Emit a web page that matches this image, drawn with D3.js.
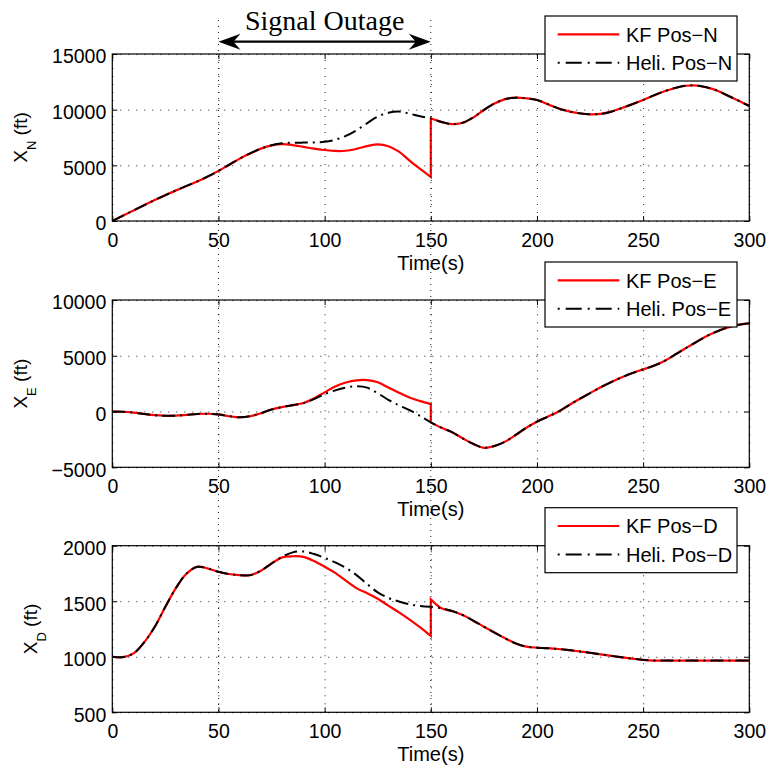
<!DOCTYPE html>
<html>
<head>
<meta charset="utf-8">
<script src="https://cdn.jsdelivr.net/npm/d3@7"></script>
<style>
  body { margin: 0; background: #fff; }
  svg { display: block; font-family: "Liberation Sans", Arial, Helvetica, sans-serif; }
</style>
</head>
<body>
<div id="chart"></div>
<script>
// time axis (s); 150 appears twice so the KF reset at the end of the outage is a vertical jump
const time = [0, 5, 10, 15, 20, 25, 30, 35, 40, 45, 50, 55, 60, 65, 70, 75, 80, 85, 90, 95,
  100, 105, 110, 115, 120, 125, 130, 135, 140, 145, 150, 150, 155, 160, 165, 170, 175, 180, 185, 190,
  195, 200, 205, 210, 215, 220, 225, 230, 235, 240, 245, 250, 255, 260, 265, 270, 275, 280, 285, 290,
  295, 300];

// North position (ft)
const heliN = [0, 480, 950, 1420, 1880, 2320, 2750, 3150, 3550, 4000, 4500, 5050, 5600, 6080, 6500, 6800, 6980, 7030, 7040, 7060,
  7110, 7300, 7650, 8150, 8780, 9380, 9720, 9830, 9640, 9400, 9220, 9220, 8900, 8700, 8820, 9300, 9970, 10550, 10950, 11080,
  11020, 10870, 10500, 10120, 9850, 9680, 9580, 9620, 9820, 10150, 10500, 10870, 11280, 11650, 11950, 12150, 12170, 12000, 11700, 11250,
  10800, 10330];
const kfN = [0, 480, 950, 1420, 1880, 2320, 2750, 3150, 3550, 4000, 4500, 5050, 5600, 6080, 6500, 6790, 6900, 6820, 6660, 6500,
  6380, 6290, 6310, 6480, 6720, 6880, 6720, 6230, 5430, 4680, 3950, 9200, 8900, 8700, 8820, 9300, 9970, 10550, 10950, 11080,
  11020, 10870, 10500, 10120, 9850, 9680, 9580, 9620, 9820, 10150, 10500, 10870, 11280, 11650, 11950, 12150, 12170, 12000, 11700, 11250,
  10800, 10330];

// East position (ft)
const heliE = [0, -20, -100, -220, -330, -380, -370, -300, -220, -200, -260, -420, -520, -420, -150, 180, 400, 570, 760, 1120,
  1560, 1900, 2150, 2260, 2140, 1640, 1050, 550, 120, -400, -970, -970, -1450, -1850, -2400, -2900, -3250, -3090, -2700, -2100,
  -1450, -910, -470, -20, 560, 1120, 1650, 2170, 2640, 3070, 3450, 3780, 4100, 4530, 5100, 5670, 6230, 6770, 7200, 7550,
  7780, 7910];
const kfE = [0, -20, -100, -220, -330, -380, -370, -300, -220, -200, -260, -420, -520, -420, -150, 180, 400, 570, 760, 1180,
  1720, 2250, 2600, 2800, 2820, 2620, 2150, 1680, 1250, 930, 660, -970, -1450, -1850, -2400, -2900, -3250, -3090, -2700, -2100,
  -1450, -910, -470, -20, 560, 1120, 1650, 2170, 2640, 3070, 3450, 3780, 4100, 4530, 5100, 5670, 6230, 6770, 7200, 7550,
  7780, 7910];

// Down position (ft)
const heliD = [1000, 997, 1030, 1130, 1270, 1450, 1620, 1750, 1810, 1795, 1765, 1745, 1735, 1735, 1775, 1840, 1900, 1940, 1948, 1925,
  1890, 1850, 1800, 1735, 1655, 1580, 1530, 1497, 1472, 1458, 1450, 1450, 1436, 1412, 1376, 1325, 1271, 1218, 1166, 1120,
  1091, 1082, 1077, 1070, 1060, 1048, 1036, 1022, 1008, 995, 983, 972, 966, 966, 966, 966, 966, 966, 966, 966,
  966, 966];
const kfD = [1000, 997, 1030, 1130, 1270, 1450, 1620, 1750, 1810, 1795, 1765, 1745, 1735, 1735, 1775, 1840, 1895, 1905, 1900, 1862,
  1810, 1755, 1685, 1618, 1572, 1522, 1460, 1400, 1335, 1265, 1187, 1517, 1436, 1412, 1376, 1325, 1271, 1218, 1166, 1120,
  1091, 1082, 1077, 1070, 1060, 1048, 1036, 1022, 1008, 995, 983, 972, 966, 966, 966, 966, 966, 966, 966, 966,
  966, 966];

const xTicks = [0, 50, 100, 150, 200, 250, 300];
const yTicksN = [0, 5000, 10000, 15000];
const yTicksE = [-5000, 0, 5000, 10000];
const yTicksD = [500, 1000, 1500, 2000];
const outage = [50, 150];
const outageLabel = "Signal Outage";

const width = 771, height = 769;
const left = 112.3, right = 749.3;

const panels = [
  { top: 54, bottom: 221, domain: [0, 15000], ticks: yTicksN, heli: heliN, kf: kfN, sub: "N", labelX: 26.7,
    kfName: "KF Pos\u2212N", heliName: "Heli. Pos\u2212N" },
  { top: 300, bottom: 467.3, domain: [-5000, 10000], ticks: yTicksE, heli: heliE, kf: kfE, sub: "E", labelX: 26.7,
    kfName: "KF Pos\u2212E", heliName: "Heli. Pos\u2212E" },
  { top: 545.7, bottom: 712.3, domain: [500, 2000], ticks: yTicksD, heli: heliD, kf: kfD, sub: "D", labelX: 36.7,
    kfName: "KF Pos\u2212D", heliName: "Heli. Pos\u2212D" }
];

const svg = d3.select("#chart").append("svg")
  .attr("width", width)
  .attr("height", height);

const x = d3.scaleLinear().domain([0, 300]).range([left, right]);
const dashDot = "13,5,2,5";

panels.forEach((p, i) => {
  const y = d3.scaleLinear().domain(p.domain).range([p.bottom, p.top]);
  const g = svg.append("g");
  const h = p.bottom - p.top;

  // dotted grid
  g.append("g")
    .attr("transform", `translate(0,${p.bottom})`)
    .call(d3.axisBottom(x).tickValues(xTicks).tickSize(-h).tickFormat(""))
    .call(s => s.select(".domain").remove())
    .selectAll("line")
    .attr("stroke", "#000").attr("stroke-width", 0.9).attr("stroke-dasharray", "1,7");
  g.append("g")
    .attr("transform", `translate(${left},0)`)
    .call(d3.axisLeft(y).tickValues(p.ticks).tickSize(-(right - left)).tickFormat(""))
    .call(s => s.select(".domain").remove())
    .selectAll("line")
    .attr("stroke", "#000").attr("stroke-width", 0.9).attr("stroke-dasharray", "1,7");

  // data lines
  g.append("clipPath").attr("id", "clip" + i)
    .append("rect").attr("x", left).attr("y", p.top).attr("width", right - left).attr("height", h);

  const line = d3.line()
    .x(d => x(d[0]))
    .y(d => y(d[1]))
    .curve(d3.curveCatmullRom.alpha(0.5));

  // split at the repeated time stamp so the reset is a straight vertical step
  const pathFor = vals => {
    const pts = time.map((t, k) => [t, vals[k]]);
    const segs = [[pts[0]]];
    for (let k = 1; k < pts.length; k++) {
      if (pts[k][0] === pts[k - 1][0]) segs.push([pts[k]]);
      else segs[segs.length - 1].push(pts[k]);
    }
    return segs.map((s, k) => {
      const d = line(s);
      return k === 0 ? d : d.replace(/^M/, "L");
    }).join("");
  };

  g.append("path")
    .attr("clip-path", `url(#clip${i})`)
    .attr("d", pathFor(p.kf))
    .attr("fill", "none").attr("stroke", "#ff0000").attr("stroke-width", 2.2);

  g.append("path")
    .attr("clip-path", `url(#clip${i})`)
    .attr("d", pathFor(p.heli))
    .attr("fill", "none").attr("stroke", "#000").attr("stroke-width", 2)
    .attr("stroke-dasharray", dashDot);

  // box
  g.append("rect")
    .attr("x", left).attr("y", p.top).attr("width", right - left).attr("height", h)
    .attr("fill", "none").attr("stroke", "#000").attr("stroke-width", 1.2);

  // inward ticks with labels
  const axB = g.append("g")
    .attr("transform", `translate(0,${p.bottom})`)
    .call(d3.axisBottom(x).tickValues(xTicks).tickSizeInner(-5).tickSizeOuter(0).tickPadding(12));
  const axT = g.append("g")
    .attr("transform", `translate(0,${p.top})`)
    .call(d3.axisTop(x).tickValues(xTicks).tickSizeInner(-5).tickSizeOuter(0).tickFormat(""));
  const axL = g.append("g")
    .attr("transform", `translate(${left},0)`)
    .call(d3.axisLeft(y).tickValues(p.ticks).tickSizeInner(-5).tickSizeOuter(0).tickPadding(6).tickFormat(d3.format("d")));
  const axR = g.append("g")
    .attr("transform", `translate(${right},0)`)
    .call(d3.axisRight(y).tickValues(p.ticks).tickSizeInner(-5).tickSizeOuter(0).tickFormat(""));

  [axB, axT, axL, axR].forEach(a => {
    a.select(".domain").remove();
    a.selectAll("line").attr("stroke", "#000").attr("stroke-width", 1);
    a.selectAll("text")
      .attr("fill", "#000")
      .style("font-family", "'Liberation Sans', Arial, sans-serif")
      .style("font-size", "19.5px");
  });
  axL.selectAll("text").attr("dy", "0.46em");

  // axis labels
  g.append("text")
    .attr("x", (left + right) / 2)
    .attr("y", p.bottom + 48.7)
    .attr("text-anchor", "middle")
    .attr("font-size", "20px")
    .text("Time(s)");

  const yl = g.append("text")
    .attr("transform", `translate(${p.labelX},${(p.top + p.bottom) / 2}) rotate(-90)`)
    .attr("text-anchor", "middle")
    .attr("font-size", "19px");
  yl.append("tspan").text("X");
  yl.append("tspan").attr("font-size", "13px").attr("dy", 9.5).text(p.sub);
  yl.append("tspan").attr("dy", -9.5).text(" (ft)");

  // legend
  const ly = p.top - 38;
  const lg = g.append("g");
  lg.append("rect")
    .attr("x", 545).attr("y", ly).attr("width", 192).attr("height", 65)
    .attr("fill", "#fff").attr("stroke", "#000").attr("stroke-width", 1.2);
  const rows = [
    { name: p.kfName, color: "#ff0000", dash: null, w: 2.2 },
    { name: p.heliName, color: "#000", dash: "16,6,2,6", w: 2 }
  ];
  rows.forEach((r, k) => {
    const ry = ly + 18.3 + k * 28.4;
    lg.append("line")
      .attr("x1", 557.7).attr("x2", 619.3).attr("y1", ry).attr("y2", ry)
      .attr("stroke", r.color).attr("stroke-width", r.w)
      .attr("stroke-dasharray", r.dash)
      .attr("stroke-dashoffset", r.dash ? 22 : null);
    lg.append("text")
      .attr("x", 626).attr("y", ry + 7.3)
      .attr("font-size", "20px")
      .text(r.name);
  });
});

// outage markers spanning all three panels
outage.forEach(t => {
  svg.append("line")
    .attr("x1", x(t)).attr("x2", x(t))
    .attr("y1", 20).attr("y2", panels[2].bottom)
    .attr("stroke", "#000").attr("stroke-width", 0.9)
    .attr("stroke-dasharray", "1,5");
});

const ay = 41.7;
const x0 = x(outage[0]), x1 = x(outage[1]);
svg.append("line")
  .attr("x1", x0 + 10).attr("x2", x1 - 10)
  .attr("y1", ay).attr("y2", ay)
  .attr("stroke", "#000").attr("stroke-width", 2.2);
svg.append("path")
  .attr("d", `M${x0},${ay} L${x0 + 22},${ay - 8} L${x0 + 15},${ay} L${x0 + 22},${ay + 8} Z`)
  .attr("fill", "#000");
svg.append("path")
  .attr("d", `M${x1},${ay} L${x1 - 22},${ay - 8} L${x1 - 15},${ay} L${x1 - 22},${ay + 8} Z`)
  .attr("fill", "#000");
svg.append("text")
  .attr("x", x((outage[0] + outage[1]) / 2))
  .attr("y", 30)
  .attr("text-anchor", "middle")
  .style("font-family", "'Liberation Serif', 'Times New Roman', serif")
  .style("font-size", "28px")
  .text(outageLabel);
</script>
</body>
</html>
